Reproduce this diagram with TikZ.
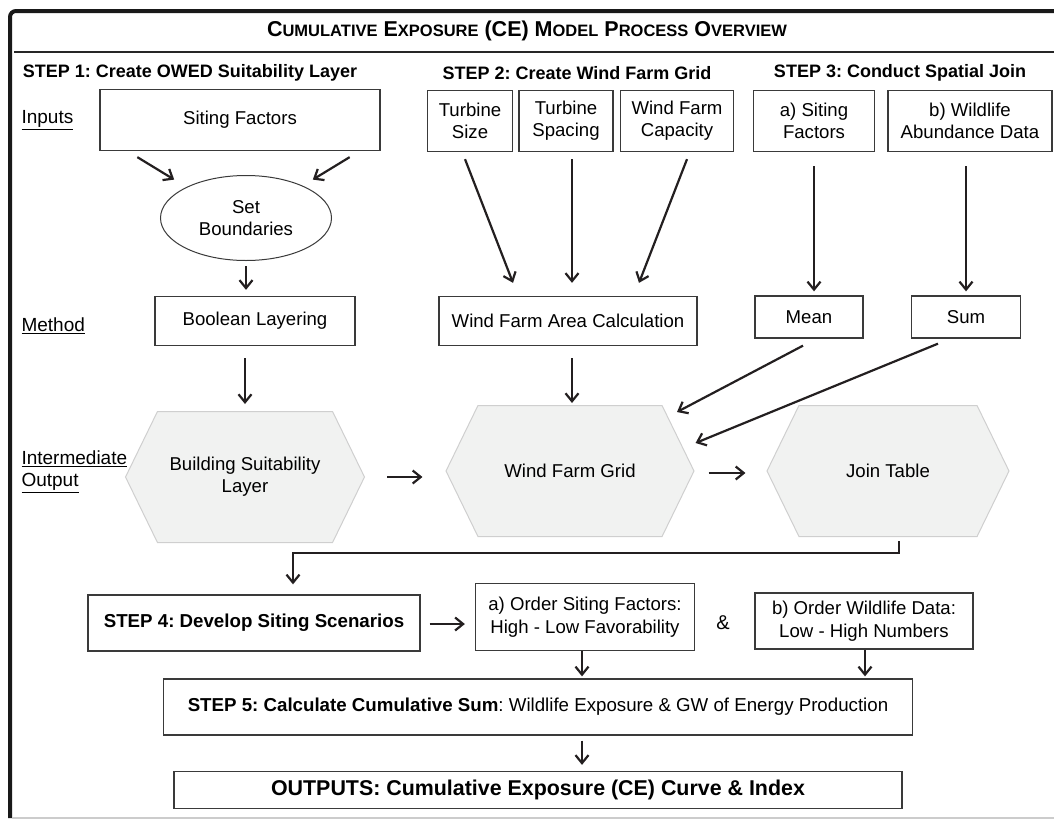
\documentclass[tikz,border=0pt]{standalone}
\usepackage{fontspec}
\setmainfont{Liberation Sans}
\usepackage{tikz}
\usetikzlibrary{calc, positioning, arrows.meta, shapes.geometric, shapes.symbols}

\definecolor{inkline}{HTML}{231F20}
\definecolor{boxline}{HTML}{3A3A3A}
\definecolor{hexfill}{HTML}{F1F2F1}
\definecolor{hexline}{HTML}{CFCFCF}

\frenchspacing

% small caps made by hand for the title
\newcommand{\capword}[2]{#1{\fontsize{16.5}{18}\selectfont #2}}

\begin{document}
\begin{tikzpicture}[
    x=1pt, y=-1pt,
    >={Straight Barb[length=8pt,width=13pt,line width=2.2pt]},
    font=\fontsize{18.6}{22}\selectfont,
    box/.style={draw=boxline, line width=1.3pt, align=center, inner sep=0pt},
    hexa/.style={signal, signal to=east and west, signal pointer angle=128,
                 draw=hexline, fill=hexfill, line width=1pt, align=center, inner sep=0pt},
    head/.style={font=\bfseries\fontsize{18}{22}\selectfont},
    rowlabel/.style={anchor=west, align=left, font=\fontsize{19}{22}\selectfont},
    link/.style={->, draw=inkline, line width=2.2pt}
]

    \useasboundingbox (0,0) rectangle (1054,819);

    % Frame and title rule
    \draw[line width=4pt, black!90, rounded corners=6pt] (10,818) -- (10,11) -- (1054,11);
    \draw[line width=2pt, black!20] (12,817.5) -- (1054,817.5);
    \draw[line width=1.5pt, black!85] (14,52) -- (1054,52);

    \node (ttl) at (527,31) {\bfseries\fontsize{21.5}{24}\selectfont
        \capword{C}{UMULATIVE} \capword{E}{XPOSURE} (CE) \capword{M}{ODEL} \capword{P}{ROCESS} \capword{O}{VERVIEW}};

    % Step headers
    \node[head] (hdone)   at (190,73) {STEP 1: Create OWED Suitability Layer};
    \node[head] (hdtwo)   at (577,73) {STEP 2: Create Wind Farm Grid};
    \node[head] (hdthree) at (900,73) {STEP 3: Conduct Spatial Join};

    % Row labels
    \node[rowlabel] (lblin)   at (18,120) {\underline{Inputs}};
    \node[rowlabel] (lblmeth) at (18,326) {\underline{Method}};
    \node[rowlabel] (lblint)  at (18,472) {\underline{Intermediate}\\\underline{Output}};

    % Step 1
    \node[box, minimum width=280pt, minimum height=61pt] (sf) at (240,120) {Siting Factors};
    \node[ellipse, draw=boxline, line width=1pt, align=center, inner sep=0pt,
          minimum width=171pt, minimum height=85pt] (sb) at (246,218) {Set\\Boundaries};
    \node[box, minimum width=200pt, minimum height=49pt] (bool) at (255,321) {Boolean Layering};
    \node[hexa, minimum width=239pt, minimum height=131pt] (bsl) at (245,477) {Building Suitability\\Layer};

    % Step 2
    \node[box, minimum width=85pt,  minimum height=61pt] (ts)  at (470,121) {Turbine\\Size};
    \node[box, minimum width=94pt,  minimum height=61pt] (tsp) at (566,121) {Turbine\\Spacing};
    \node[box, minimum width=113pt, minimum height=61pt] (wfc) at (677,121) {Wind Farm\\Capacity};
    \node[box, minimum width=258pt, minimum height=49pt] (wfac) at (568,321) {Wind Farm Area Calculation};
    \node[hexa, minimum width=248pt, minimum height=131pt] (wfg) at (570,471) {Wind Farm Grid};

    % Step 3
    \node[box, minimum width=121pt, minimum height=61pt] (asf)  at (814,121) {a) Siting\\Factors};
    \node[box, minimum width=164pt, minimum height=61pt] (bwad) at (970,121) {b) Wildlife\\Abundance Data};
    \node[box, minimum width=108pt, minimum height=42pt] (mean) at (809,317) {Mean};
    \node[box, minimum width=109pt, minimum height=42pt] (sum)  at (966,317) {Sum};
    \node[hexa, minimum width=242pt, minimum height=131pt] (jt) at (888,471) {Join Table};

    % Steps 4 and 5, outputs
    \node[box, minimum width=332pt, minimum height=56pt, font=\bfseries\fontsize{18.7}{22}\selectfont]
        (step4) at (254,623) {STEP 4: Develop Siting Scenarios};
    \node[box, minimum width=219pt, minimum height=67pt, font=\fontsize{18.6}{23}\selectfont]
        (ordsf) at (585,617) {a) Order Siting Factors:\\High - Low Favorability};
    \node[font=\fontsize{20}{22}\selectfont] (amp) at (723,623) {\&};
    \node[box, minimum width=218pt, minimum height=56pt, font=\fontsize{18.6}{23}\selectfont]
        (ordwd) at (864,621) {b) Order Wildlife Data:\\Low - High Numbers};
    \node[box, minimum width=749pt, minimum height=56pt, font=\fontsize{18.7}{22}\selectfont]
        (step5) at (538,707) {\textbf{STEP 5: Calculate Cumulative Sum}: Wildlife Exposure \& GW of Energy Production};
    \node[box, minimum width=728pt, minimum height=37pt, font=\bfseries\fontsize{21.4}{24}\selectfont]
        (outs) at (538,790) {OUTPUTS: Cumulative Exposure (CE) Curve \& Index};

    % Connectors, step 1
    \draw[link] ([shift={(38,6)}]sf.south west) -- ([shift={(-11,-8)}]sb.north west);
    \draw[link] ([shift={(-31,6)}]sf.south east) -- ([shift={(6,-8)}]sb.north east);
    \draw[link] ([shift={(0,5)}]sb.south) -- ([shift={(-9,-6)}]bool.north);
    \draw[link] ([shift={(-10,12)}]bool.south) -- ([shift={(0,-7)}]bsl.north);
    \draw[link] ([shift={(22,0)}]bsl.east) -- ([shift={(-23,6)}]wfg.west);

    % Connectors, step 2
    \draw[link] ([shift={(-5,7)}]ts.south)  -- ([shift={(-55,-13)}]wfac.north);
    \draw[link] ([shift={(6,7)}]tsp.south)  -- ([shift={(4,-13)}]wfac.north);
    \draw[link] ([shift={(10,7)}]wfc.south) -- ([shift={(71,-13)}]wfac.north);
    \draw[link] ([shift={(4,12)}]wfac.south) -- ([shift={(2,-2)}]wfg.north);
    \draw[link] ([shift={(14,2)}]wfg.east) -- ([shift={(-21,2)}]jt.west);

    % Connectors, step 3
    \draw[link] ([shift={(0,14)}]asf.south)  -- ([shift={(5,-4)}]mean.north);
    \draw[link] ([shift={(-4,14)}]bwad.south) -- ([shift={(0,-4)}]sum.north);
    \draw[link] ([shift={(-6,7)}]mean.south) -- ([shift={(107,7)}]wfg.north);
    \draw[link] ([shift={(-28,5)}]sum.south) -- ([shift={(1,-28)}]wfg.east);

    % Connectors, steps 4 and 5
    \draw[link] ([shift={(11,4)}]jt.south) -- ++(0,12) -| ([shift={(39,-10)}]step4.north);
    \draw[link] ([shift={(9,1)}]step4.east) -- ([shift={(-10,7)}]ordsf.west);
    \draw[link] ([shift={(-3,0)}]ordsf.south) -- ([shift={(44,-2)}]step5.north);
    \draw[link] ([shift={(1,0)}]ordwd.south) -- ([shift={(327,-2)}]step5.north);
    \draw[link] ([shift={(44,5)}]step5.south) -- ([shift={(44,-6)}]outs.north);

\end{tikzpicture}
\end{document}
